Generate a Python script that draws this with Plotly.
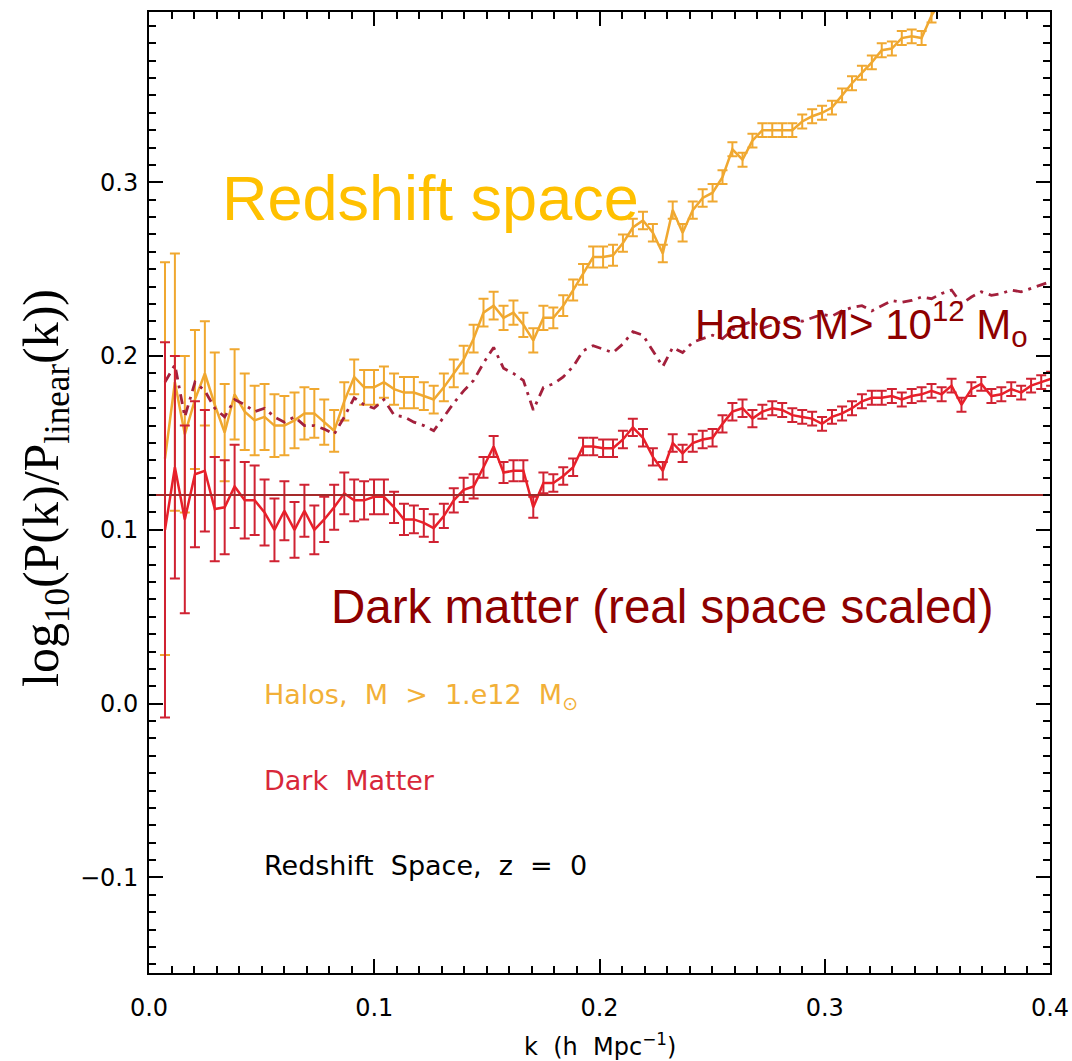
import plotly.graph_objects as go

# k values (h Mpc^-1)
k_vals = [0.0071, 0.0115, 0.0159, 0.0204, 0.0248, 0.0292, 0.0336, 0.0380, 0.0425, 0.0469,
          0.0513, 0.0557, 0.0601, 0.0646, 0.0690, 0.0734, 0.0778, 0.0822, 0.0867, 0.0911,
          0.0955, 0.0999, 0.1043, 0.1088, 0.1132, 0.1176, 0.1220, 0.1264, 0.1309, 0.1353,
          0.1397, 0.1441, 0.1485, 0.1530, 0.1574, 0.1618, 0.1662, 0.1706, 0.1751, 0.1795,
          0.1839, 0.1883, 0.1927, 0.1972, 0.2016, 0.2060, 0.2104, 0.2148, 0.2193, 0.2237,
          0.2281, 0.2325, 0.2369, 0.2414, 0.2458, 0.2502, 0.2546, 0.2590, 0.2635, 0.2679,
          0.2723, 0.2767, 0.2811, 0.2856, 0.2900, 0.2944, 0.2988, 0.3032, 0.3077, 0.3121,
          0.3165, 0.3209, 0.3253, 0.3298, 0.3342, 0.3386, 0.3430, 0.3474, 0.3519, 0.3563,
          0.3607, 0.3651, 0.3695, 0.3740, 0.3784, 0.3828, 0.3872, 0.3916, 0.3961, 0.4005]

# Halos (redshift space), with errors
halo_rs = [0.141, 0.185, 0.155, 0.175, 0.190, 0.172, 0.156, 0.178, 0.168, 0.163,
           0.165, 0.160, 0.160, 0.163, 0.167, 0.167, 0.162, 0.157, 0.174, 0.188,
           0.182, 0.182, 0.185, 0.181, 0.179, 0.179, 0.177, 0.175, 0.182, 0.190,
           0.198, 0.210, 0.225, 0.229, 0.222, 0.225, 0.218, 0.209, 0.222, 0.222,
           0.229, 0.238, 0.247, 0.257, 0.257, 0.258, 0.265, 0.274, 0.278, 0.271,
           0.259, 0.284, 0.271, 0.284, 0.291, 0.294, 0.303, 0.319, 0.313, 0.324,
           0.330, 0.330, 0.330, 0.330, 0.335, 0.338, 0.340, 0.343, 0.350, 0.357,
           0.363, 0.369, 0.376, 0.377, 0.383, 0.384, 0.383, 0.396, 0.405, 0.410]
halo_rs_err = [0.113, 0.074, 0.045, 0.040, 0.030, 0.030, 0.028, 0.026, 0.022, 0.020,
               0.019, 0.018, 0.017, 0.016, 0.015, 0.014, 0.013, 0.012, 0.011, 0.010,
               0.010, 0.010, 0.009, 0.009, 0.009, 0.009, 0.008, 0.008, 0.008, 0.008,
               0.008, 0.008, 0.008, 0.008, 0.007, 0.007, 0.007, 0.007, 0.007, 0.006,
               0.006, 0.006, 0.006, 0.006, 0.006, 0.006, 0.005, 0.005, 0.005, 0.005,
               0.005, 0.005, 0.005, 0.005, 0.005, 0.005, 0.004, 0.004, 0.004, 0.004,
               0.004, 0.004, 0.004, 0.004, 0.004, 0.004, 0.004, 0.004, 0.004, 0.004,
               0.004, 0.004, 0.004, 0.004, 0.004, 0.004, 0.004, 0.004, 0.004, 0.004]

# Halos (real space scaled), dash-dot
halo_real = [0.185, 0.195, 0.165, 0.185, 0.180, 0.170, 0.165, 0.175, 0.172, 0.168,
             0.170, 0.165, 0.162, 0.165, 0.160, 0.160, 0.158, 0.155, 0.165, 0.176,
             0.172, 0.170, 0.175, 0.166, 0.165, 0.162, 0.160, 0.157, 0.165, 0.173,
             0.180, 0.186, 0.196, 0.205, 0.193, 0.190, 0.186, 0.169, 0.182, 0.184,
             0.188, 0.194, 0.203, 0.206, 0.204, 0.202, 0.207, 0.214, 0.212, 0.203,
             0.194, 0.205, 0.202, 0.208, 0.210, 0.212, 0.210, 0.215, 0.218, 0.220,
             0.216, 0.218, 0.220, 0.222, 0.220, 0.222, 0.224, 0.223, 0.226, 0.228,
             0.229, 0.226, 0.229, 0.232, 0.231, 0.232, 0.234, 0.233, 0.236, 0.238,
             0.230, 0.234, 0.237, 0.235, 0.236, 0.238, 0.237, 0.239, 0.241, 0.243]

# Dark matter, with errors
dm = [0.100, 0.136, 0.106, 0.132, 0.134, 0.112, 0.113, 0.125, 0.117, 0.117,
      0.110, 0.100, 0.111, 0.100, 0.111, 0.100, 0.106, 0.113, 0.121, 0.117,
      0.117, 0.119, 0.119, 0.113, 0.106, 0.106, 0.104, 0.101, 0.108, 0.117,
      0.123, 0.125, 0.136, 0.148, 0.133, 0.134, 0.134, 0.113, 0.127, 0.127,
      0.131, 0.136, 0.148, 0.148, 0.147, 0.147, 0.152, 0.159, 0.153, 0.142,
      0.134, 0.150, 0.144, 0.150, 0.152, 0.153, 0.161, 0.168, 0.170, 0.164,
      0.168, 0.170, 0.169, 0.166, 0.165, 0.164, 0.161, 0.165, 0.167, 0.170,
      0.174, 0.176, 0.176, 0.177, 0.175, 0.177, 0.178, 0.180, 0.178, 0.183,
      0.172, 0.181, 0.184, 0.177, 0.178, 0.181, 0.179, 0.183, 0.185, 0.187]
dm_err = [0.108, 0.064, 0.054, 0.042, 0.035, 0.030, 0.027, 0.024, 0.022, 0.020,
          0.019, 0.018, 0.017, 0.016, 0.015, 0.014, 0.013, 0.013, 0.012, 0.012,
          0.011, 0.010, 0.010, 0.009, 0.009, 0.008, 0.008, 0.008, 0.007, 0.007,
          0.007, 0.007, 0.006, 0.006, 0.006, 0.006, 0.006, 0.006, 0.006, 0.005,
          0.005, 0.005, 0.005, 0.005, 0.005, 0.005, 0.005, 0.005, 0.005, 0.005,
          0.005, 0.005, 0.005, 0.005, 0.005, 0.005, 0.005, 0.005, 0.005, 0.005,
          0.004, 0.004, 0.004, 0.004, 0.004, 0.004, 0.004, 0.004, 0.004, 0.004,
          0.004, 0.004, 0.004, 0.004, 0.004, 0.004, 0.004, 0.004, 0.004, 0.004,
          0.004, 0.004, 0.004, 0.004, 0.004, 0.004, 0.004, 0.004, 0.004, 0.004]

# Reference level (dark matter real space scaled)
dm_level = 0.12
x_range = [0.0, 0.4]
y_range = [-0.155, 0.398]

ORANGE = "#F0A830"
RED = "#E8202A"
RED_ERR = "#D02232"
MAROON = "#A3203C"
DARKRED = "#8E0000"

fig = go.Figure()

fig.add_trace(go.Scatter(
    x=k_vals[:len(halo_rs)], y=halo_rs, mode="lines",
    line=dict(color=ORANGE, width=2.5),
    error_y=dict(type="data", array=halo_rs_err, color=ORANGE, thickness=2, width=5),
    showlegend=False))

fig.add_trace(go.Scatter(
    x=k_vals, y=halo_real, mode="lines",
    line=dict(color=MAROON, width=2.8, dash="10px,6px,3px,6px"),
    showlegend=False))

fig.add_trace(go.Scatter(
    x=k_vals, y=dm, mode="lines",
    line=dict(color=RED, width=2.5),
    error_y=dict(type="data", array=dm_err, color=RED_ERR, thickness=2, width=5),
    showlegend=False))

fig.add_trace(go.Scatter(
    x=x_range, y=[dm_level, dm_level], mode="lines",
    line=dict(color="#A52A2A", width=2),
    showlegend=False))

axis_common = dict(
    showline=True, linecolor="black", linewidth=2, mirror="allticks",
    ticks="inside", ticklen=14, tickwidth=2, tickcolor="black",
    showgrid=False, zeroline=False,
    tickfont=dict(family="DejaVu Sans", size=24, color="black"),
    tickformat=".1f", dtick=0.1,
    minor=dict(ticks="inside", ticklen=7, tickwidth=2, tickcolor="black", dtick=0.01, showgrid=False),
)

fig.update_xaxes(range=x_range, tick0=0, ticklabelstandoff=12, **axis_common)
fig.update_yaxes(range=y_range, tick0=0, ticklabelstandoff=4, **axis_common)

NB = "\u00a0"
annotations = [
    dict(x=0.0315, y=0.291, xref="x", yref="y", text="Redshift space",
         font=dict(family="Liberation Sans", size=63, color="#FFC000"),
         xanchor="left", yanchor="middle", showarrow=False),
    dict(x=0.2415, y=0.219, xref="x", yref="y", text="Halos M> 10<sup>12</sup> M<sub>o</sub>",
         font=dict(family="Liberation Sans", size=42, color=DARKRED),
         xanchor="left", yanchor="middle", showarrow=False),
    dict(x=0.0800, y=0.0557, xref="x", yref="y", text="Dark matter (real space scaled)",
         font=dict(family="Liberation Sans", size=47.5, color=DARKRED),
         xanchor="left", yanchor="middle", showarrow=False),
    dict(x=0.0502, y=0.004, xref="x", yref="y",
         text=f"Halos,{NB}{NB}M{NB}{NB}>{NB}{NB}1.e12{NB}{NB}M<sub>⊙</sub>",
         font=dict(family="DejaVu Sans", size=27, color="#F2B038"),
         xanchor="left", yanchor="middle", showarrow=False),
    dict(x=0.0502, y=-0.0443, xref="x", yref="y", text=f"Dark{NB}{NB}Matter",
         font=dict(family="DejaVu Sans", size=27, color="#D8283A"),
         xanchor="left", yanchor="middle", showarrow=False),
    dict(x=0.0502, y=-0.0931, xref="x", yref="y",
         text=f"Redshift{NB}{NB}Space,{NB}{NB}z{NB}{NB}={NB}{NB}0",
         font=dict(family="DejaVu Sans", size=27, color="black"),
         xanchor="left", yanchor="middle", showarrow=False),
    # axis titles
    dict(x=(600 - 149) / 901, y=-(1045 - 973) / 961, xref="paper", yref="paper",
         text=f"k{NB}{NB}(h{NB}{NB}Mpc<sup>−1</sup>)",
         font=dict(family="DejaVu Sans", size=24, color="black"),
         xanchor="center", yanchor="middle", showarrow=False),
    dict(x=(45 - 149) / 901, y=(973 - 488) / 961, xref="paper", yref="paper",
         text="log<sub>10</sub>(P(k)/P<sub>linear</sub>(k))", textangle=-90,
         font=dict(family="Liberation Serif", size=50, color="black"),
         xanchor="center", yanchor="middle", showarrow=False),
]

fig.update_layout(
    width=1072, height=1061,
    margin=dict(l=149, r=22, t=12, b=88, autoexpand=False),
    paper_bgcolor="white", plot_bgcolor="white",
    annotations=annotations,
    showlegend=False,
)

fig.write_html("out.html")
